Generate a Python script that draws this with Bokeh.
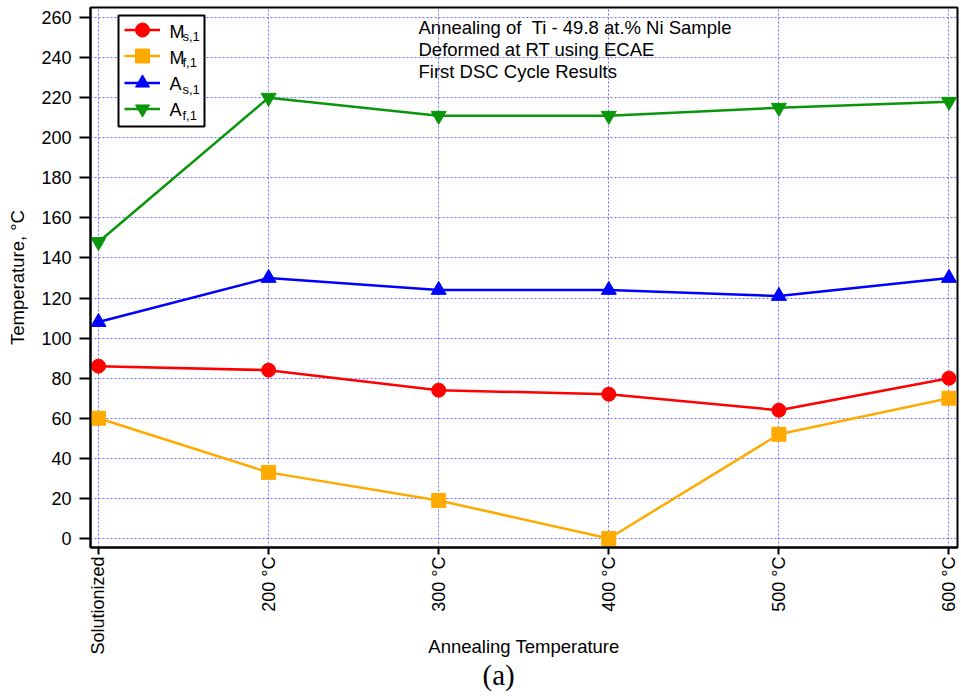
import math
from bokeh.plotting import figure
from bokeh.models import (ColumnDataSource, FixedTicker, Range1d, Legend, LegendItem,
                          Label, Title, BoxAnnotation)
from bokeh.embed import file_html
from bokeh.resources import INLINE

# Annealing conditions and DSC transformation temperatures (°C)
conditions = ["Solutionized", "200 °C", "300 °C", "400 °C", "500 °C", "600 °C"]
ms_1 = [86, 84, 74, 72, 64, 80]
mf_1 = [60, 33, 19, 0, 52, 70]
as_1 = [108, 130, 124, 124, 121, 130]
af_1 = [148, 220, 211, 211, 215, 218]
y_ticks = list(range(0, 261, 20))

FONT = "Liberation Sans"
xs = list(range(len(conditions)))

p = figure(width=961, height=696, output_backend="svg", toolbar_location=None,
           x_range=Range1d(-0.047, 5.05), y_range=Range1d(-4.5, 265),
           min_border_left=90, min_border_right=4, min_border_top=7,
           min_border_bottom=149)

p.outline_line_color = "black"
p.outline_line_width = 2
p.background_fill_color = "white"
p.border_fill_color = "white"

for ax in (p.xaxis[0], p.yaxis[0]):
    ax.axis_line_width = 2
    ax.major_tick_line_width = 2
    ax.major_tick_in = 0
    ax.minor_tick_line_color = None
    ax.major_label_text_font = FONT
    ax.major_label_text_font_size = "18px"
    ax.major_label_text_color = "black"
    ax.axis_label_text_font = FONT
    ax.axis_label_text_font_style = "normal"
    ax.axis_label_text_font_size = "18.5px"
    ax.axis_label_text_color = "black"

p.xaxis.ticker = FixedTicker(ticks=xs)
p.xaxis.major_label_overrides = {i: c for i, c in enumerate(conditions)}
p.xaxis.major_label_orientation = math.pi / 2
p.xaxis.major_tick_out = 7
p.xaxis.major_label_standoff = 2
p.xaxis.axis_label = "Annealing Temperature"
p.xaxis.axis_label_standoff = -22

p.yaxis.ticker = FixedTicker(ticks=y_ticks)
p.yaxis.major_tick_out = 11
p.yaxis.major_label_standoff = 8
p.yaxis.axis_label = "Temperature, °C"
p.yaxis.axis_label_standoff = 10

for g in (p.xgrid[0], p.ygrid[0]):
    g.grid_line_color = "#6f6fff"
    g.grid_line_dash = "2 2"
    g.grid_line_width = 1

series = [
    ("ms", ms_1, "#ff0000", "circle", 14),
    ("mf", mf_1, "#ffaa00", "square", 14),
    ("as", as_1, "#0000ff", "triangle", 15),
    ("af", af_1, "#0a960a", "inverted_triangle", 15),
]

# Positions of overlays below are in pixels from the frame's lower-left corner
FX, FY = 90, 547

# white legend panel with a black frame
p.add_layout(BoxAnnotation(left=118 - FX, right=204 - FX, top=FY - 15, bottom=FY - 126,
                           left_units="screen", right_units="screen",
                           top_units="screen", bottom_units="screen",
                           fill_color="white", fill_alpha=1.0,
                           line_color="black", line_width=2, line_alpha=1.0,
                           level="annotation"))

# one single-entry legend per series, so each sample keeps a full-size marker
ROW_H = 35
for i, (name, vals, color, marker, size) in enumerate(series):
    src = ColumnDataSource(dict(x=xs, y=vals))
    ln = p.line("x", "y", source=src, line_color=color, line_width=2.5)
    mk = p.scatter("x", "y", source=src, marker=marker, size=size,
                   fill_color=color, line_color=color)
    row_center = 29 + 26.5 * i
    leg = Legend(items=[LegendItem(label=" ", renderers=[ln, mk])],
                 location=(124 - FX, FY - (row_center + ROW_H / 2)),
                 glyph_width=36, glyph_height=ROW_H, spacing=0, padding=0, margin=0,
                 label_width=4, label_standoff=0, label_height=10,
                 label_text_font_size="6px", border_line_color=None,
                 background_fill_alpha=0.0)
    p.add_layout(leg, "center")

# legend entries with subscripts
names = [("M", "s,1"), ("M", "f,1"), ("A", "s,1"), ("A", "f,1")]
for i, (big, sub) in enumerate(names):
    base = 31 + 26.3 * i
    p.add_layout(Label(x=169 - FX, y=FY - base, x_units="screen", y_units="screen",
                       text=big, text_font=FONT, text_font_size="18px",
                       text_color="black", text_baseline="alphabetic", level="overlay"))
    p.add_layout(Label(x=182 - FX, y=FY - base - 5, x_units="screen", y_units="screen",
                       text=sub, text_font=FONT, text_font_size="13px",
                       text_color="black", text_baseline="alphabetic", level="overlay"))

# annotation block
for i, line in enumerate(["Annealing of \u00a0Ti - 49.8 at.% Ni Sample",
                          "Deformed at RT using ECAE",
                          "First DSC Cycle Results"]):
    p.add_layout(Label(x=418 - FX, y=FY - (27 + 22 * i), x_units="screen", y_units="screen",
                       text=line, text_font=FONT, text_font_size="18.5px",
                       text_color="black", text_baseline="alphabetic", level="overlay"))

# panel caption under the axis title
p.add_layout(Title(text="(a)", align="left", text_font="Liberation Serif",
                   text_font_size="29px", text_font_style="normal", text_color="black",
                   standoff=-5, offset=392), "below")

open("out.html", "w").write(file_html(p, INLINE))
